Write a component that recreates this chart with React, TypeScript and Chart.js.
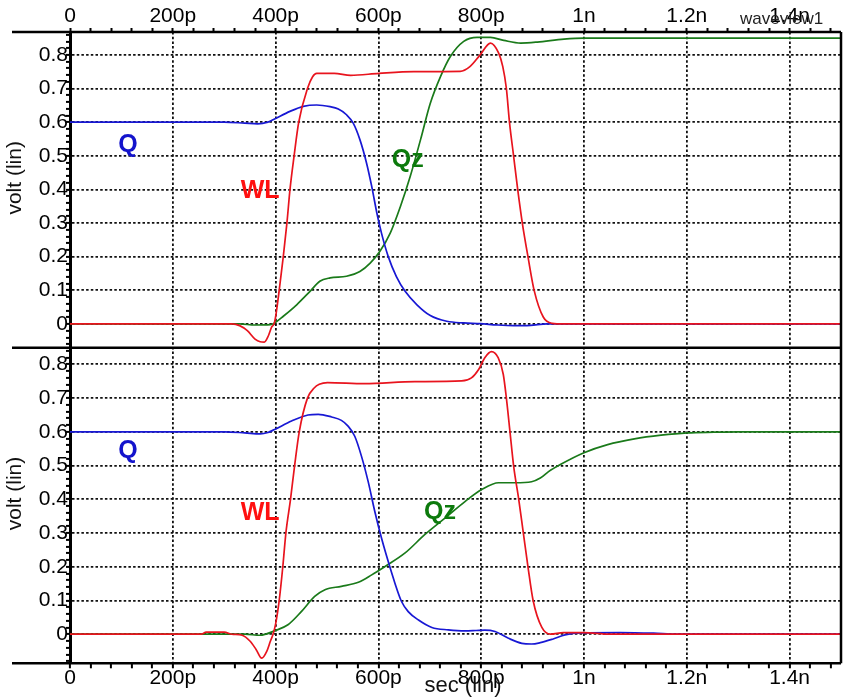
import { useEffect, useRef } from 'react';
import { Chart, registerables } from 'chart.js';

Chart.register(...registerables);

const FONT = '"Liberation Sans", Arial, Helvetica, sans-serif';

// Time axis, in picoseconds
const timeMin = 0;
const timeMax = 1500;
const timeMinorStep = 40;
const timeMajorStep = 200;

// Voltage axes (one per panel)
const voltMinorStep = 0.02;
const upperVoltMin = -0.0704;
const upperVoltMax = 0.868;
const lowerVoltMin = -0.0862;
const lowerVoltMax = 0.8496;

// ---------- upper panel ----------
const upperQTime = [0, 300, 340, 365, 385, 395, 428, 454, 480, 506, 522, 538, 551, 564, 577, 587, 597, 606, 619, 635, 652, 675, 701, 733, 766, 798, 831, 863, 896, 928, 960, 1500];
const upperQVolt = [0.6, 0.6, 0.597, 0.595, 0.6, 0.607, 0.632, 0.647, 0.651, 0.646, 0.639, 0.622, 0.597, 0.548, 0.478, 0.409, 0.33, 0.27, 0.201, 0.141, 0.097, 0.057, 0.025, 0.008, 0.003, 0.001, -0.003, -0.005, -0.004, 0, 0, 0];

const upperWLTime = [0, 315, 330, 345, 360, 370, 378, 386, 392, 398, 407, 422, 428, 436, 445, 462, 472, 480, 514, 546, 601, 669, 759, 778, 798, 818, 834, 842, 849, 855, 863, 871, 880, 891, 903, 921, 938, 960, 1500];
const upperWLVolt = [0, 0, -0.005, -0.02, -0.045, -0.053, -0.054, -0.035, -0.01, 0.005, 0.1, 0.3, 0.4, 0.5, 0.6, 0.7, 0.735, 0.745, 0.745, 0.739, 0.745, 0.75, 0.751, 0.765, 0.8, 0.835, 0.805, 0.765, 0.7, 0.6, 0.5, 0.4, 0.3, 0.2, 0.1, 0.02, 0.002, 0, 0];

const upperQzTime = [0, 330, 360, 390, 398, 415, 441, 467, 486, 506, 538, 564, 584, 603, 623, 643, 662, 682, 701, 721, 740, 766, 792, 818, 844, 877, 909, 961, 1000, 1500];
const upperQzVolt = [0, 0, -0.003, -0.002, 0.003, 0.023, 0.057, 0.097, 0.127, 0.137, 0.142, 0.156, 0.181, 0.216, 0.27, 0.35, 0.439, 0.548, 0.656, 0.736, 0.795, 0.84, 0.852, 0.852, 0.843, 0.835, 0.838, 0.847, 0.85, 0.85];

// ---------- lower panel ----------
const lowerQTime = [0, 300, 340, 370, 385, 398, 431, 463, 483, 509, 528, 541, 554, 567, 580, 593, 606, 619, 632, 645, 658, 678, 704, 736, 768, 790, 807, 827, 853, 879, 898, 915, 940, 963, 993, 1070, 1135, 1180, 1500];
const lowerQVolt = [0.6, 0.6, 0.597, 0.594, 0.598, 0.607, 0.632, 0.65, 0.652, 0.644, 0.634, 0.617, 0.587, 0.528, 0.453, 0.364, 0.285, 0.216, 0.152, 0.097, 0.067, 0.042, 0.02, 0.013, 0.01, 0.011, 0.012, 0.008, -0.012, -0.027, -0.029, -0.025, -0.014, -0.002, 0.004, 0.005, 0.003, 0, 0];

const lowerWLTime = [0, 255, 265, 300, 315, 335, 350, 362, 373, 383, 390, 395, 400, 407, 414, 420, 429, 437, 446, 462, 475, 485, 501, 573, 671, 762, 781, 795, 807, 820, 833, 843, 849, 856, 863, 873, 882, 891, 901, 918, 935, 960, 1000, 1050, 1500];
const lowerWLVolt = [0, 0, 0.006, 0.006, 0, -0.003, -0.02, -0.045, -0.071, -0.05, -0.02, 0, 0.03, 0.1, 0.2, 0.3, 0.4, 0.5, 0.6, 0.7, 0.73, 0.741, 0.746, 0.743, 0.749, 0.751, 0.76, 0.785, 0.82, 0.838, 0.82, 0.77, 0.7, 0.6, 0.5, 0.4, 0.3, 0.2, 0.1, 0.02, 0, 0.005, 0.005, 0, 0];

const lowerQzTime = [0, 340, 370, 398, 424, 450, 476, 496, 528, 561, 587, 613, 652, 690, 730, 769, 801, 834, 866, 898, 915, 931, 954, 1000, 1046, 1098, 1150, 1201, 1253, 1300, 1500];
const lowerQzVolt = [0, 0, -0.003, 0.01, 0.028, 0.067, 0.112, 0.132, 0.142, 0.154, 0.176, 0.201, 0.241, 0.295, 0.345, 0.394, 0.429, 0.449, 0.449, 0.452, 0.463, 0.482, 0.503, 0.538, 0.562, 0.579, 0.59, 0.597, 0.599, 0.6, 0.6];

// Signal name tags, placed in data coordinates
const tagNames = ['Q', 'WL', 'Qz'];
const tagColors = ['#1414cc', '#ff1010', '#0c7a0c'];
const upperTagTime = [113, 370, 657];
const upperTagVolt = [0.533, 0.394, 0.488];
const lowerTagTime = [113, 370, 720];
const lowerTagVolt = [0.542, 0.36, 0.362];

const lineColors = { Q: '#1818d4', WL: '#e8141e', Qz: '#1a7a1a' };

const points = (t: number[], v: number[]) => t.map((x, i) => ({ x, y: v[i] }));

const timeLabel = (v: number) => {
  if (v % timeMajorStep !== 0) return '';
  if (v === 0) return '0';
  if (v < 1000) return `${v}p`;
  return `${v / 1000}n`;
};

const buildTimeTicks = (scale: any) => {
  const ticks = [];
  for (let t = timeMin; t <= timeMax; t += timeMinorStep) ticks.push({ value: t });
  scale.ticks = ticks;
};

const buildVoltTicks = (scale: any) => {
  const kMin = Math.ceil(scale.min / voltMinorStep - 1e-9);
  const kMax = Math.floor(scale.max / voltMinorStep + 1e-9);
  const ticks = [];
  for (let k = kMin; k <= kMax; k++) ticks.push({ value: k / 50 });
  scale.ticks = ticks;
};

const isMajorVolt = (v: number) => Math.round(v * 50) % 5 === 0;
const voltLabel = (v: number) => {
  if (!isMajorVolt(v)) return '';
  if (Math.abs(v) < 1e-9) return '0';
  return v.toFixed(1);
};

const tickFont = { family: FONT, size: 21 };
const gridDash = [2.5, 2.2];

const voltScale = (min: number, max: number) => ({
  type: 'linear' as const,
  position: 'left' as const,
  stack: 'panels',
  stackWeight: 1,
  min,
  max,
  afterBuildTicks: buildVoltTicks,
  afterFit: (s: any) => {
    s.width = 70;
  },
  ticks: {
    autoSkip: false,
    callback: (v: any) => voltLabel(Number(v)),
    font: tickFont,
    color: '#000',
    padding: -2,
  },
  grid: {
    color: (c: any) => (c.tick && isMajorVolt(c.tick.value) ? '#111' : 'rgba(0,0,0,0)'),
    lineWidth: 1.8,
    tickLength: 4,
    tickColor: '#000',
    tickWidth: 2,
  },
  border: { display: true, color: '#000', width: 3, dash: gridDash },
});

const panelText = {
  id: 'panelText',
  afterDatasetsDraw(chart: any) {
    const { ctx, scales } = chart;
    const x = scales.x;
    ctx.save();
    ctx.font = `bold 25px ${FONT}`;
    ctx.textAlign = 'center';
    ctx.textBaseline = 'middle';
    tagNames.forEach((name, i) => {
      ctx.fillStyle = tagColors[i];
      ctx.fillText(name, x.getPixelForValue(upperTagTime[i]), scales.yA.getPixelForValue(upperTagVolt[i]));
      ctx.fillText(name, x.getPixelForValue(lowerTagTime[i]), scales.yB.getPixelForValue(lowerTagVolt[i]));
    });
    ctx.restore();
  },
  afterDraw(chart: any) {
    const { ctx, chartArea, scales } = chart;
    ctx.save();
    // heavy frame lines: top edge, panel divider, bottom edge, right edge
    ctx.strokeStyle = '#000';
    ctx.lineWidth = 2.5;
    ctx.beginPath();
    for (const y of [chartArea.top, scales.yA.bottom, chartArea.bottom]) {
      ctx.moveTo(12, y);
      ctx.lineTo(chartArea.right, y);
    }
    ctx.moveTo(chartArea.right, chartArea.top);
    ctx.lineTo(chartArea.right, chartArea.bottom);
    ctx.stroke();

    // axis titles
    ctx.fillStyle = '#111';
    ctx.font = `21px ${FONT}`;
    ctx.textAlign = 'center';
    ctx.textBaseline = 'middle';
    for (const s of [scales.yA, scales.yB]) {
      ctx.save();
      ctx.translate(15, (s.top + s.bottom) / 2 - 12);
      ctx.rotate(-Math.PI / 2);
      ctx.fillText('volt (lin)', 0, 0);
      ctx.restore();
    }
    ctx.font = `22px ${FONT}`;
    ctx.fillText('sec (lin)', 463, 686);

    ctx.font = `17px ${FONT}`;
    ctx.textAlign = 'left';
    ctx.textBaseline = 'alphabetic';
    ctx.fillStyle = '#222';
    ctx.fillText('waveview1', 740, 24);
    ctx.restore();
  },
};

export default function App() {
  const canvasRef = useRef<HTMLCanvasElement | null>(null);

  useEffect(() => {
    const canvas = canvasRef.current;
    if (!canvas) return;
    Chart.defaults.font.family = FONT;

    const line = (label: string, color: string, t: number[], v: number[], yAxisID: string) => ({
      label,
      data: points(t, v),
      borderColor: color,
      backgroundColor: color,
      borderWidth: 1.7,
      pointRadius: 0,
      cubicInterpolationMode: 'monotone' as const,
      xAxisID: 'x',
      yAxisID,
    });

    const chart = new Chart(canvas, {
      type: 'line',
      data: {
        datasets: [
          line('WL', lineColors.WL, upperWLTime, upperWLVolt, 'yA'),
          line('Q', lineColors.Q, upperQTime, upperQVolt, 'yA'),
          line('Qz', lineColors.Qz, upperQzTime, upperQzVolt, 'yA'),
          line('WL', lineColors.WL, lowerWLTime, lowerWLVolt, 'yB'),
          line('Q', lineColors.Q, lowerQTime, lowerQVolt, 'yB'),
          line('Qz', lineColors.Qz, lowerQzTime, lowerQzVolt, 'yB'),
        ],
      },
      options: {
        animation: false,
        responsive: true,
        maintainAspectRatio: false,
        devicePixelRatio: 1,
        layout: { padding: { left: 0, right: 3, top: 0, bottom: 0 } },
        plugins: { legend: { display: false }, tooltip: { enabled: false } },
        events: [],
        scales: {
          yB: voltScale(lowerVoltMin, lowerVoltMax),
          yA: voltScale(upperVoltMin, upperVoltMax),
          x: {
            type: 'linear',
            position: 'bottom',
            min: timeMin,
            max: timeMax,
            afterBuildTicks: buildTimeTicks,
            afterFit: (s: any) => {
              s.height = 36.7;
            },
            ticks: {
              autoSkip: false,
              maxRotation: 0,
              callback: (v: any) => timeLabel(Number(v)),
              font: tickFont,
              color: '#000',
              padding: -3,
            },
            grid: {
              color: (c: any) =>
                c.tick && c.tick.value % timeMajorStep === 0 && c.tick.value !== 0 ? '#111' : 'rgba(0,0,0,0)',
              lineWidth: 1.8,
              tickLength: 5,
              tickColor: '#000',
              tickWidth: 2,
            },
            border: { display: false, dash: gridDash },
          },
          xTop: {
            type: 'linear',
            position: 'top',
            min: timeMin,
            max: timeMax,
            afterBuildTicks: buildTimeTicks,
            afterFit: (s: any) => {
              s.height = 32;
            },
            ticks: {
              autoSkip: false,
              maxRotation: 0,
              callback: (v: any) => timeLabel(Number(v)),
              font: tickFont,
              color: '#000',
              padding: -1,
            },
            grid: {
              drawOnChartArea: false,
              color: '#000',
              tickLength: 4,
              tickColor: '#000',
              tickWidth: 2,
            },
            border: { display: false },
          },
        },
      } as any,
      plugins: [panelText],
    });

    return () => chart.destroy();
  }, []);

  return (
    <div style={{ position: 'absolute', left: 0, top: 0, width: 844, height: 700, background: '#fff' }}>
      <canvas ref={canvasRef} />
    </div>
  );
}
